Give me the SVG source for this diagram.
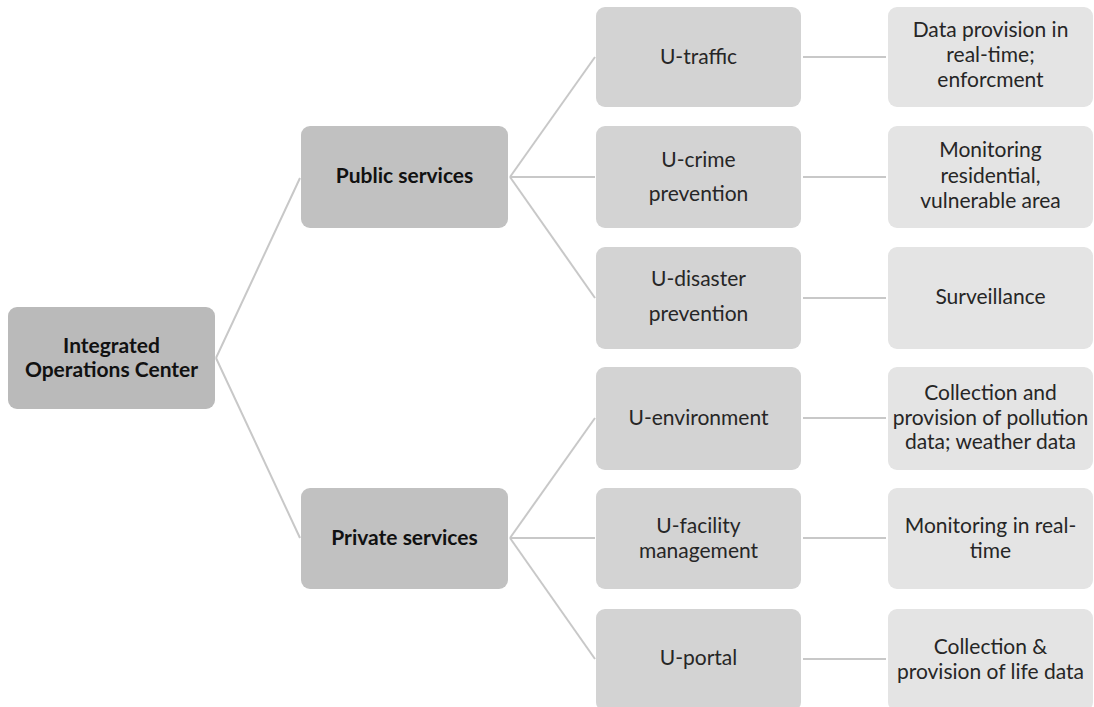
<svg xmlns="http://www.w3.org/2000/svg" width="1094" height="707" viewBox="0 0 1094 707">
<style>
  .l1 { fill: #bababa; }
  .l2 { fill: #c1c1c1; }
  .l3 { fill: #d3d3d3; }
  .l4 { fill: #e4e4e4; }
  text { font-family: Lato, "Open Sans", sans-serif; font-size: 21px; fill: #262626; text-anchor: middle; }
  .b { font-weight: bold; fill: #111; }
  .c { stroke: #c8c8c8; stroke-width: 2; fill: none; }
</style>
<rect width="1094" height="707" fill="#ffffff"/>
<g id="connectors">
  <line class="c" x1="216" y1="358" x2="300" y2="178"/>
  <line class="c" x1="216" y1="358" x2="300" y2="538"/>
  <line class="c" x1="510" y1="177" x2="595" y2="57"/>
  <line class="c" x1="510" y1="177" x2="595" y2="177"/>
  <line class="c" x1="510" y1="177" x2="595" y2="298"/>
  <line class="c" x1="510" y1="538" x2="595" y2="418"/>
  <line class="c" x1="510" y1="538" x2="595" y2="538"/>
  <line class="c" x1="510" y1="538" x2="595" y2="659"/>
  <line class="c" x1="803" y1="57" x2="886" y2="57"/>
  <line class="c" x1="803" y1="177" x2="886" y2="177"/>
  <line class="c" x1="803" y1="298" x2="886" y2="298"/>
  <line class="c" x1="803" y1="418" x2="886" y2="418"/>
  <line class="c" x1="803" y1="538" x2="886" y2="538"/>
  <line class="c" x1="803" y1="659" x2="886" y2="659"/>
</g>
<g id="root">
  <rect class="l1" x="8" y="307" width="207" height="102" rx="9"/>
  <text class="b" x="111.5" y="353">Integrated</text>
  <text class="b" x="111.5" y="377">Operations Center</text>
</g>
<g id="public">
  <rect class="l2" x="301" y="126" width="207" height="102" rx="9"/>
  <text class="b" x="404.5" y="183">Public services</text>
</g>
<g id="private">
  <rect class="l2" x="301" y="488" width="207" height="101" rx="9"/>
  <text class="b" x="404.5" y="545">Private services</text>
</g>
<g id="u-traffic">
  <rect class="l3" x="596" y="7" width="205" height="100" rx="9"/>
  <text x="698.5" y="64">U-traffic</text>
</g>
<g id="u-crime">
  <rect class="l3" x="596" y="126" width="205" height="102" rx="9"/>
  <text x="698.5" y="167">U-crime</text>
  <text x="698.5" y="201">prevention</text>
</g>
<g id="u-disaster">
  <rect class="l3" x="596" y="247" width="205" height="102" rx="9"/>
  <text x="698.5" y="286">U-disaster</text>
  <text x="698.5" y="321">prevention</text>
</g>
<g id="u-environment">
  <rect class="l3" x="596" y="367" width="205" height="103" rx="9"/>
  <text x="698.5" y="425">U-environment</text>
</g>
<g id="u-facility">
  <rect class="l3" x="596" y="488" width="205" height="101" rx="9"/>
  <text x="698.5" y="533">U-facility</text>
  <text x="698.5" y="558">management</text>
</g>
<g id="u-portal">
  <rect class="l3" x="596" y="609" width="205" height="102" rx="9"/>
  <text x="698.5" y="665">U-portal</text>
</g>
<g id="d-traffic">
  <rect class="l4" x="888" y="7" width="205" height="100" rx="9"/>
  <text x="990.5" y="37">Data provision in</text>
  <text x="990.5" y="62">real-time;</text>
  <text x="990.5" y="87">enforcment</text>
</g>
<g id="d-crime">
  <rect class="l4" x="888" y="126" width="205" height="102" rx="9"/>
  <text x="990.5" y="157">Monitoring</text>
  <text x="990.5" y="183">residential,</text>
  <text x="990.5" y="208">vulnerable area</text>
</g>
<g id="d-disaster">
  <rect class="l4" x="888" y="247" width="205" height="102" rx="9"/>
  <text x="990.5" y="304">Surveillance</text>
</g>
<g id="d-environment">
  <rect class="l4" x="888" y="367" width="205" height="103" rx="9"/>
  <text x="990.5" y="400">Collection and</text>
  <text x="990.5" y="425">provision of pollution</text>
  <text x="990.5" y="449">data; weather data</text>
</g>
<g id="d-facility">
  <rect class="l4" x="888" y="488" width="205" height="101" rx="9"/>
  <text x="990.5" y="533">Monitoring in real-</text>
  <text x="990.5" y="558">time</text>
</g>
<g id="d-portal">
  <rect class="l4" x="888" y="609" width="205" height="102" rx="9"/>
  <text x="990.5" y="654">Collection &amp;</text>
  <text x="990.5" y="679">provision of life data</text>
</g>
</svg>
